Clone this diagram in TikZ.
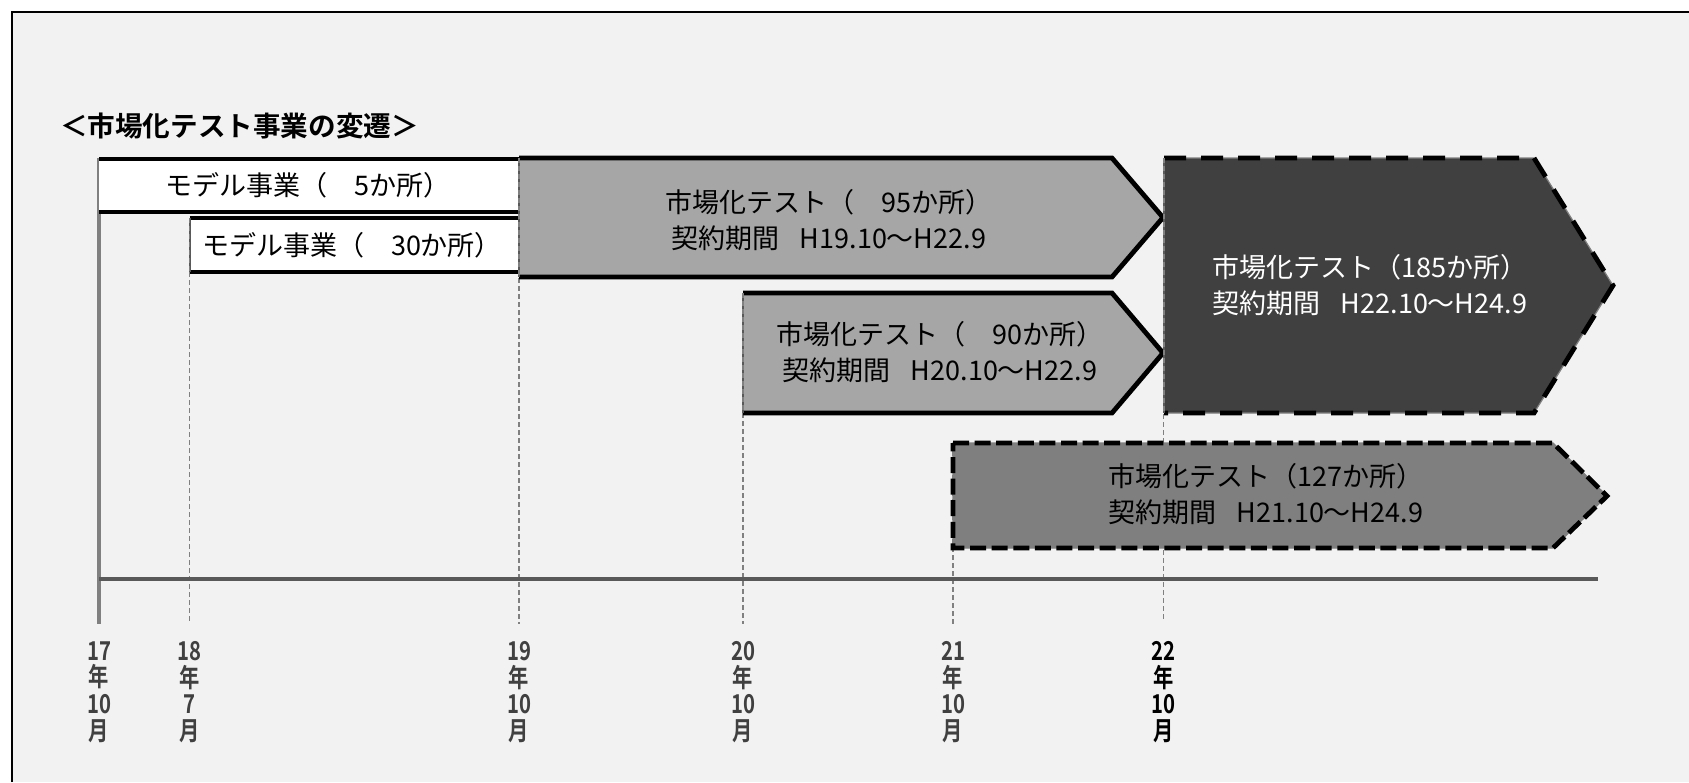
\documentclass[tikz,border=0pt]{standalone}
\usepackage{fontspec}
\setmainfont{Noto Sans CJK JP}[BoldFont={Noto Sans CJK JP Bold}]
\newfontfamily\tickfont{Noto Sans CJK JP Bold}[FakeStretch=0.78]
\definecolor{bg}{HTML}{F2F2F2}
\definecolor{lightfill}{HTML}{A6A6A6}
\definecolor{darkfill}{HTML}{404040}
\definecolor{midfill}{HTML}{7F7F7F}
\definecolor{axisgray}{HTML}{595959}
\definecolor{vaxis}{HTML}{808080}
\definecolor{ticktext}{HTML}{404040}
\tikzset{
  guide/.style={draw=vaxis, line width=0.55pt, dash pattern=on 2.5pt off 1.5pt},
  edgeline/.style={draw=axisgray, line width=0.9pt},
  solidborder/.style={draw=black, line width=2.4pt, line join=miter},
  boxborder/.style={draw=black, line width=1.6pt},
  dashA/.style={draw=black, line width=2.4pt, dash pattern=on 11pt off 7.5pt, line join=miter},
  dashB/.style={draw=black, line width=2.4pt, dash pattern=on 8pt off 2.8pt, line join=miter},
  lbl/.style={align=center, inner sep=0pt, font=\fontsize{13.5}{17.75}\selectfont},
  ticklbl/.style={align=center, inner sep=0pt, text=ticktext, font=\tickfont\fontsize{13}{13.4}\selectfont}
}
\begin{document}
\begin{tikzpicture}[x=0.5pt,y=-0.5pt]
\useasboundingbox (0,0) rectangle (1689,782);
\fill[white] (0,0) rectangle (1689,782);
\fill[bg] (12,12) rectangle (1689,782);
\draw[black, line width=1pt] (12,782) -- (12,12) -- (1689,12);

% named coordinates for the time marks
\coordinate (g18t) at (189.6,272);  \coordinate (g18b) at (189.6,624);
\coordinate (g19t) at (519,158);    \coordinate (g19b) at (519,624);
\coordinate (g20t) at (743,293);    \coordinate (g20b) at (743,624);
\coordinate (g21t) at (953,443);    \coordinate (g21b) at (953,624);
\coordinate (g22t) at (1163.5,158); \coordinate (g22b) at (1163.5,621);

% guide lines
\draw[guide] (g18t) -- (g18b);
\draw[guide] (g19t) -- (g19b);
\draw[guide] (g20t) -- (g20b);
\draw[guide] (g21t) -- (g21b);
\draw[guide] (g22t) -- (g22b);

% axes
\coordinate (origin) at (99,579);
\coordinate (vtop) at (99,158);
\coordinate (vbot) at (99,624);
\coordinate (hend) at (1598,579);
\draw[draw=vaxis, line width=1.6pt] (vtop) -- (vbot);
\draw[draw=axisgray, line width=2.1pt] (origin) -- (hend);

% model boxes
\fill[white] (99,159) rectangle (519,212);
\draw[boxborder] (99,159) -- (519,159);
\draw[boxborder] (99,212) -- (519,212);
\fill[white] (189.6,218) rectangle (519,272);
\draw[boxborder] (189.6,218) -- (519,218);
\draw[boxborder] (189.6,272) -- (519,272);
\draw[edgeline] (189.6,218) -- (189.6,272);
\draw[guide] (189.6,218) -- (189.6,272);

% arrow 95
\fill[lightfill] (519,158) -- (1112,158) -- (1163,217.5) -- (1112,277) -- (519,277) -- cycle;
\draw[solidborder] (519,158) -- (1112,158) -- (1163,217.5) -- (1112,277) -- (519,277);
\draw[edgeline] (519,158) -- (519,277);
\draw[guide] (519,158) -- (519,277);

% arrow 90
\fill[lightfill] (743,293) -- (1112,293) -- (1163,353) -- (1112,413) -- (743,413) -- cycle;
\draw[solidborder] (743,293) -- (1112,293) -- (1163,353) -- (1112,413) -- (743,413);
\draw[edgeline] (743,293) -- (743,413);
\draw[guide] (743,293) -- (743,413);

% arrow 185
\fill[darkfill] (1164,158) -- (1534,158) -- (1613,285.5) -- (1534,413) -- (1164,413) -- cycle;
\draw[draw=vaxis, line width=0.6pt] (1164,158) -- (1534,158) -- (1613,285.5) -- (1534,413) -- (1164,413);
\draw[dashA] (1164,158) -- (1534,158) -- (1613,285.5) -- (1534,413) -- (1164,413);
\draw[edgeline] (1164,158) -- (1164,413);
\draw[guide] (1164,158) -- (1164,413);

% arrow 127
\fill[midfill] (953,443) -- (1553,443) -- (1607,496) -- (1553,548) -- (953,548) -- cycle;
\draw[draw=vaxis, line width=0.6pt] (953,443) -- (1553,443) -- (1607,496) -- (1553,548) -- (953,548) -- cycle;
\draw[dashB] (953,443) -- (1553,443) -- (1607,496) -- (1553,548) -- (953,548) -- cycle;

% title
\node[inner sep=0pt, font=\bfseries\fontsize{13.8}{16}\selectfont] (title) at (239.5,126) {＜市場化テスト事業の変遷＞};

% labels
\node[lbl] (m5) at (308,185) {モデル事業（　5か所）};
\node[lbl] (m30) at (352,245.6) {モデル事業（　30か所）};
\node[lbl] (t95) at (829,220) {市場化テスト（　95か所）\\契約期間\hspace{10pt}H19.10～H22.9};
\node[lbl] (t90) at (940,352) {市場化テスト（　90か所）\\契約期間\hspace{10pt}H20.10～H22.9};
\node[lbl, text=white] (t185) at (1370,285) {市場化テスト（185か所）\\契約期間\hspace{10pt}H22.10～H24.9};
\node[lbl] (t127) at (1266,494) {市場化テスト（127か所）\\契約期間\hspace{10pt}H21.10～H24.9};

% tick labels
\node[ticklbl] (k17) at (99,692) {17\\年\\10\\月};
\node[ticklbl] (k18) at (189.6,692) {18\\年\\7\\月};
\node[ticklbl] (k19) at (519,692) {19\\年\\10\\月};
\node[ticklbl] (k20) at (743,692) {20\\年\\10\\月};
\node[ticklbl] (k21) at (953,692) {21\\年\\10\\月};
\node[ticklbl, text=black] (k22) at (1163.5,692) {22\\年\\10\\月};
\end{tikzpicture}
\end{document}
